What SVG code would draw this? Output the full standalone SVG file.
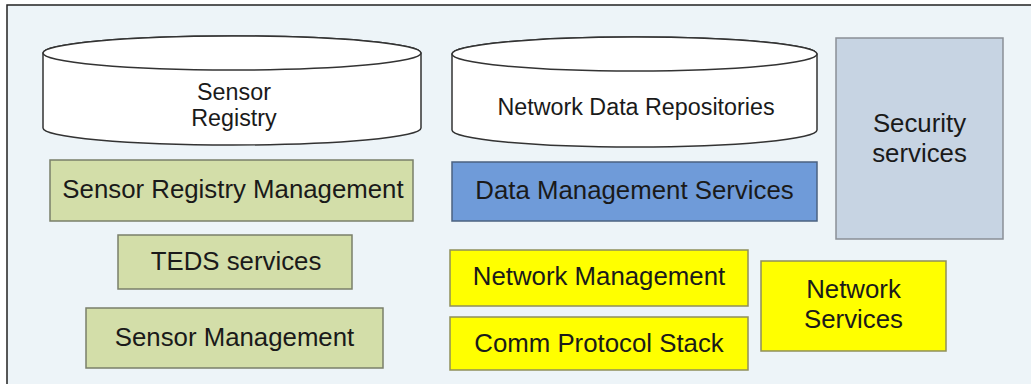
<svg xmlns="http://www.w3.org/2000/svg" width="1031" height="384" viewBox="0 0 1031 384">
<style>
.t{font-family:"Liberation Sans",Arial,sans-serif;fill:#1a1a1a;text-anchor:middle}
.b{font-size:25.8px}
.c{font-size:23.3px}
.cyl{fill:#ffffff;stroke:#333333;stroke-width:1.5}
.green{fill:#d3dea9;stroke:#7a7f6a;stroke-width:1.5}
.blue{fill:#6f9bd9;stroke:#4b6280;stroke-width:1.5}
.sec{fill:#c7d4e3;stroke:#8a8f96;stroke-width:1.5}
.yel{fill:#ffff00;stroke:#8f8f5a;stroke-width:1.5}
</style>
<rect x="0" y="0" width="1031" height="384" fill="#ffffff"/>
<rect x="7" y="5" width="1030" height="390" fill="#edf4f8" stroke="#222222" stroke-width="1.5"/>
<g id="sensor-registry">
<path class="cyl" d="M43,53 L43,128 A189,17 0 0 0 421,128 L421,53 A189,17 0 0 0 43,53 Z"/>
<ellipse class="cyl" cx="232" cy="53" rx="189" ry="17"/>
<text class="t c" x="234" y="100">Sensor</text>
<text class="t c" x="234" y="126">Registry</text>
</g>
<g id="network-data-repositories">
<path class="cyl" d="M452,54 L452,130 A182.5,17 0 0 0 817,130 L817,54 A182.5,17 0 0 0 452,54 Z"/>
<ellipse class="cyl" cx="634.5" cy="54" rx="182.5" ry="17"/>
<text class="t c" x="636" y="115">Network Data Repositories</text>
</g>
<g id="security-services">
<rect class="sec" x="836" y="38" width="167" height="201"/>
<text class="t b" x="919.5" y="132">Security</text>
<text class="t b" x="919.5" y="162">services</text>
</g>
<g id="sensor-registry-management">
<rect class="green" x="50" y="160" width="363" height="61"/>
<text class="t b" x="233" y="198">Sensor Registry Management</text>
</g>
<g id="data-management-services">
<rect class="blue" x="452" y="162" width="365" height="59"/>
<text class="t b" x="634.5" y="199">Data Management Services</text>
</g>
<g id="teds-services">
<rect class="green" x="118" y="235" width="234" height="54"/>
<text class="t b" x="236" y="270">TEDS services</text>
</g>
<g id="network-management">
<rect class="yel" x="450" y="250" width="298" height="56"/>
<text class="t b" x="599" y="285">Network Management</text>
</g>
<g id="network-services">
<rect class="yel" x="761" y="261" width="185" height="90"/>
<text class="t b" x="853.5" y="298">Network</text>
<text class="t b" x="853.5" y="328">Services</text>
</g>
<g id="sensor-management">
<rect class="green" x="86" y="308" width="297" height="60"/>
<text class="t b" x="234.5" y="346">Sensor Management</text>
</g>
<g id="comm-protocol-stack">
<rect class="yel" x="450" y="317" width="298" height="53"/>
<text class="t b" x="599" y="352">Comm Protocol Stack</text>
</g>
<g id="connectors"></g>
</svg>
